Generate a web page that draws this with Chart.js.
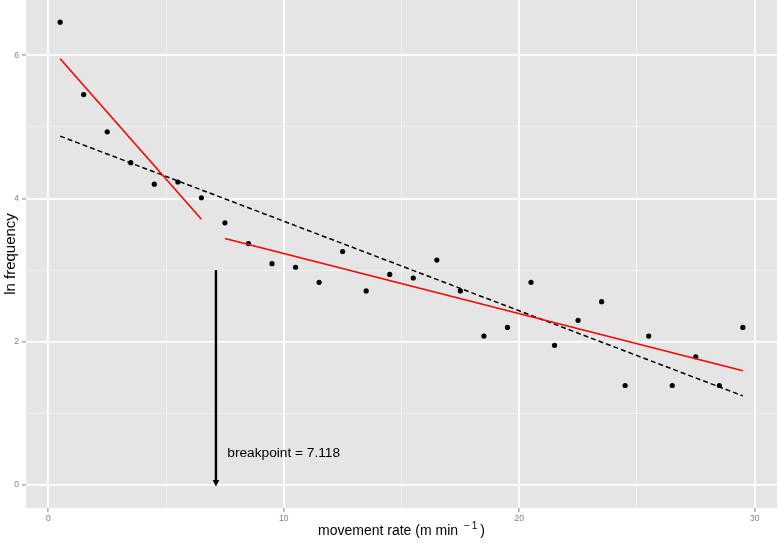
<!DOCTYPE html>
<html>
<head>
<meta charset="utf-8">
<script src="https://cdn.jsdelivr.net/npm/chart.js@4/dist/chart.umd.min.js"></script>
<style>
  body { margin: 0; background: #fff; }
  canvas { display: block; }
</style>
</head>
<body>
<canvas id="rateChart" width="778" height="543"></canvas>
<script>
// observed points
const rate = [0.5, 1.5, 2.5, 3.5, 4.5, 5.5, 6.5, 7.5, 8.5, 9.5, 10.5, 11.5, 12.5, 13.5, 14.5,
              15.5, 16.5, 17.5, 18.5, 19.5, 20.5, 21.5, 22.5, 23.5, 24.5, 25.5, 26.5, 27.5, 28.5, 29.5];
const lnFreq = [6.46, 5.45, 4.93, 4.50, 4.20, 4.23, 4.01, 3.66, 3.37, 3.09, 3.04, 2.83, 3.26, 2.71, 2.94,
                2.89, 3.14, 2.71, 2.08, 2.20, 2.83, 1.95, 2.30, 2.56, 1.39, 2.08, 1.39, 1.79, 1.39, 2.20];

// fitted lines
const linearX = [0.5, 29.5];
const linearY = [4.87, 1.245];
const seg1X = [0.5, 6.5];
const seg1Y = [5.95, 3.71];
const seg2X = [7.5, 29.5];
const seg2Y = [3.44, 1.595];

// breakpoint annotation
const breakpoint = 7.118;
const arrowY = [3.0, 0];
const breakLabel = 'breakpoint = 7.118';
const labelPos = [7.6, 0.45];

// axis breaks
const xMajor = [0, 10, 20, 30];
const xMinor = [5, 15, 25];
const yMajor = [0, 2, 4, 6];
const yMinor = [1, 3, 5];

const FONT = '"Liberation Sans", Arial, sans-serif';

const toPoints = (xs, ys) => xs.map((x, i) => ({ x: x, y: ys[i] }));

const panelBg = {
    id: 'panelBg',
    beforeDraw(chart) {
        const { ctx, chartArea: a } = chart;
        ctx.save();
        ctx.fillStyle = '#E5E5E5';
        ctx.fillRect(a.left, a.top, a.right - a.left, a.bottom - a.top);
        ctx.restore();
    }
};

const arrowNote = {
    id: 'arrowNote',
    afterDatasetsDraw(chart) {
        const { ctx, scales: { x, y } } = chart;
        const px = x.getPixelForValue(breakpoint);
        const top = y.getPixelForValue(arrowY[0]);
        const tip = y.getPixelForValue(arrowY[1]);
        ctx.save();
        ctx.strokeStyle = '#000';
        ctx.lineWidth = 2.4;
        ctx.beginPath();
        ctx.moveTo(px, top);
        ctx.lineTo(px, tip - 4);
        ctx.stroke();
        ctx.fillStyle = '#000';
        ctx.beginPath();
        ctx.moveTo(px, tip + 1.5);
        ctx.lineTo(px - 3.3, tip - 5);
        ctx.lineTo(px + 3.3, tip - 5);
        ctx.closePath();
        ctx.fill();
        ctx.font = '13.7px ' + FONT;
        ctx.textAlign = 'left';
        ctx.textBaseline = 'middle';
        ctx.fillText(breakLabel, x.getPixelForValue(labelPos[0]), y.getPixelForValue(labelPos[1]));
        ctx.restore();
    }
};

// x title with a real superscript
const xTitle = {
    id: 'xTitle',
    afterDraw(chart) {
        const { ctx, chartArea: a } = chart;
        const main = 'movement rate (m min ';
        const minus = '\u2212';
        const one = '1';
        const close = ')';
        ctx.save();
        ctx.fillStyle = '#000';
        ctx.textBaseline = 'alphabetic';
        ctx.textAlign = 'left';
        ctx.font = '14px ' + FONT;
        const wMain = ctx.measureText(main).width;
        const wClose = ctx.measureText(close).width;
        ctx.font = '10px ' + FONT;
        const wMinus = ctx.measureText(minus).width;
        const wOne = ctx.measureText(one).width;
        const total = wMain + 2 + wMinus + 2 + wOne + 3 + wClose;
        let cx = (a.left + a.right) / 2 - total / 2;
        const base = 535;
        ctx.font = '14px ' + FONT;
        ctx.fillText(main, cx, base);
        cx += wMain + 2;
        ctx.font = '10px ' + FONT;
        ctx.fillText(minus, cx, base - 6);
        cx += wMinus + 2;
        ctx.fillText(one, cx, base - 6);
        cx += wOne + 3;
        ctx.font = '14px ' + FONT;
        ctx.fillText(close, cx, base);
        ctx.restore();
    }
};

const gridColor = (ctx, major) => major.includes(ctx.tick.value) ? '#FFFFFF' : '#F4F4F4';
const gridWidth = (ctx, major) => major.includes(ctx.tick.value) ? 1.8 : 0.9;
const tickColor = (ctx, major) => major.includes(ctx.tick.value) ? '#7F7F7F' : 'rgba(0,0,0,0)';

new Chart(document.getElementById('rateChart'), {
    type: 'scatter',
    data: {
        datasets: [
            {
                label: 'seg1',
                data: toPoints(seg1X, seg1Y),
                showLine: true,
                borderColor: '#FF0000',
                borderWidth: 1.6,
                pointRadius: 0,
                order: 1
            },
            {
                label: 'seg2',
                data: toPoints(seg2X, seg2Y),
                showLine: true,
                borderColor: '#FF0000',
                borderWidth: 1.6,
                pointRadius: 0,
                order: 1
            },
            {
                label: 'linear',
                data: toPoints(linearX, linearY),
                showLine: true,
                borderColor: '#000000',
                borderWidth: 1.5,
                borderDash: [5, 3],
                pointRadius: 0,
                order: 2
            },
            {
                label: 'observed',
                data: toPoints(rate, lnFreq),
                backgroundColor: '#000000',
                borderColor: '#000000',
                pointRadius: 2.6,
                pointBorderWidth: 0,
                order: 3
            }
        ]
    },
    options: {
        responsive: false,
        animation: false,
        layout: { autoPadding: false, padding: { left: 0, right: 1, top: 0, bottom: 0 } },
        plugins: { legend: { display: false }, tooltip: { enabled: false } },
        scales: {
            x: {
                type: 'linear',
                min: -0.95,
                max: 30.95,
                afterBuildTicks: (scale) => {
                    scale.ticks = xMajor.concat(xMinor).sort((a, b) => a - b).map(v => ({ value: v }));
                },
                afterFit: (scale) => {
                    scale.height = 35;
                    scale.paddingLeft = 0;
                    scale.paddingRight = 0;
                },
                border: { display: false },
                grid: {
                    color: (ctx) => gridColor(ctx, xMajor),
                    lineWidth: (ctx) => gridWidth(ctx, xMajor),
                    tickColor: (ctx) => tickColor(ctx, xMajor),
                    tickLength: 4,
                    tickWidth: 1
                },
                ticks: {
                    autoSkip: false,
                    maxRotation: 0,
                    padding: 2,
                    color: '#7F7F7F',
                    font: { family: FONT, size: 8.5 },
                    callback: (v) => xMajor.includes(v) ? String(v) : ''
                },
                title: { display: false }
            },
            y: {
                type: 'linear',
                min: -0.32,
                max: 6.77,
                afterBuildTicks: (scale) => {
                    scale.ticks = yMajor.concat(yMinor).sort((a, b) => a - b).map(v => ({ value: v }));
                },
                afterFit: (scale) => {
                    scale.width = 26;
                    scale.paddingTop = 0;
                    scale.paddingBottom = 0;
                },
                border: { display: false },
                grid: {
                    color: (ctx) => gridColor(ctx, yMajor),
                    lineWidth: (ctx) => gridWidth(ctx, yMajor),
                    tickColor: (ctx) => tickColor(ctx, yMajor),
                    tickLength: 4,
                    tickWidth: 1
                },
                ticks: {
                    autoSkip: false,
                    padding: 3,
                    color: '#7F7F7F',
                    font: { family: FONT, size: 8.5 },
                    callback: (v) => yMajor.includes(v) ? String(v) : ''
                },
                title: {
                    display: true,
                    text: 'ln frequency',
                    color: '#000',
                    padding: { top: 1.5, bottom: 0 },
                    font: { family: FONT, size: 15 }
                }
            }
        }
    },
    plugins: [panelBg, arrowNote, xTitle]
});
</script>
</body>
</html>
